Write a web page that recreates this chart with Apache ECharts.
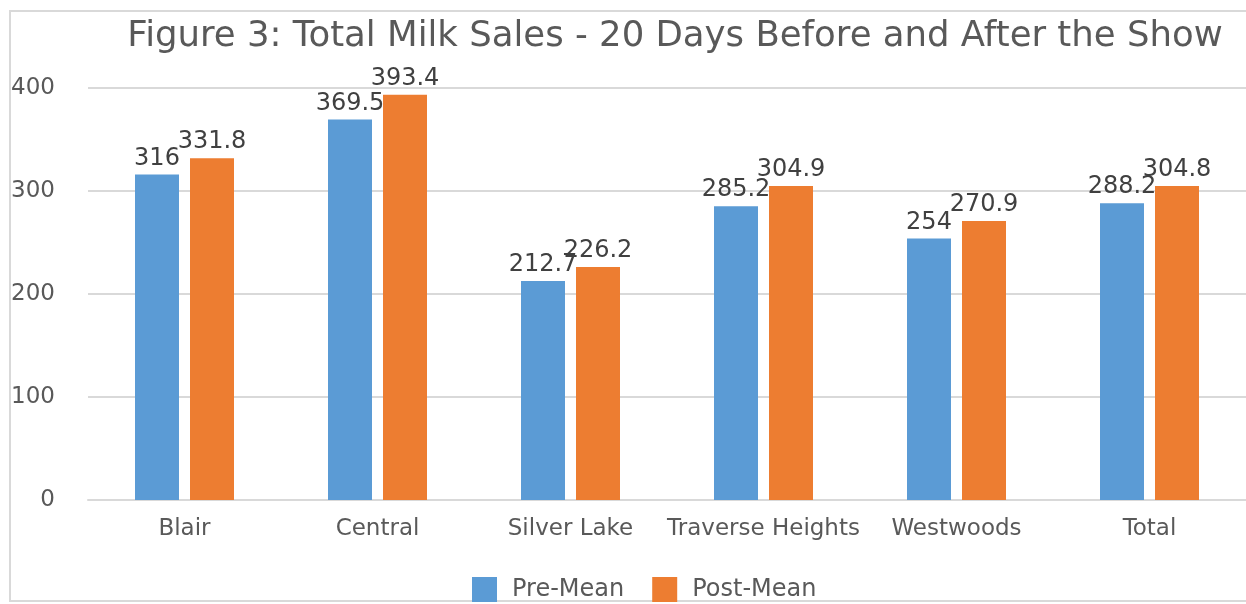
<!DOCTYPE html>
<html><head><meta charset="utf-8">
<script src="https://cdn.jsdelivr.net/npm/echarts@6/dist/echarts.min.js"></script>
<style>html,body{margin:0;padding:0;background:#fff}#c{width:1246px;height:604px}</style>
</head><body><div id="c"></div>
<script>
const categories = ['Blair','Central','Silver Lake','Traverse Heights','Westwoods','Total'];
const preMean = [316, 369.5, 212.7, 285.2, 254, 288.2];
const postMean = [331.8, 393.4, 226.2, 304.9, 270.9, 304.8];
const yTicks = [0, 100, 200, 300, 400];
const titleText = 'Figure 3: Total Milk Sales - 20 Days Before and After the Show';

const FONT = 'DejaVu Sans';
const chart = echarts.init(document.getElementById('c'));
chart.setOption({
  animation: false,
  textStyle: {fontFamily: FONT},
  title: {text: titleText, left: 670, top: 14, textAlign: 'center',
    textStyle: {fontFamily: FONT, fontSize: 35.5, fontWeight: 'normal', color: '#595959'}},
  legend: {top: 572, left: 467, itemWidth: 25, itemHeight: 25, itemGap: 28,
    icon: 'rect', textStyle: {fontSize: 24, color: '#595959', fontFamily: FONT, padding: [0, 0, 0, 10]}},
  grid: {left: 88, top: 88, width: 1164, height: 412, containLabel: false},
  xAxis: {type: 'category', data: categories,
    axisLine: {lineStyle: {color: '#d9d9d9', width: 2}}, axisTick: {show: false},
    axisLabel: {interval: 0, fontSize: 23, color: '#595959', margin: 18, fontFamily: FONT}},
  yAxis: {type: 'value', min: yTicks[0], max: yTicks[yTicks.length-1], interval: 100,
    axisLine: {show: false}, axisTick: {show: false},
    splitLine: {lineStyle: {color: '#d9d9d9', width: 2}},
    axisLabel: {fontSize: 23, color: '#595959', margin: 33, fontFamily: FONT}},
  series: [
    {name: 'Pre-Mean', type: 'bar', data: preMean, barWidth: 44, barGap: '25%',
      itemStyle: {color: '#5b9bd5'},
      label: {show: true, position: 'top', distance: 4, fontSize: 24, color: '#404040', fontFamily: FONT}},
    {name: 'Post-Mean', type: 'bar', data: postMean, barWidth: 44,
      itemStyle: {color: '#ed7d31'},
      label: {show: true, position: 'top', distance: 4, fontSize: 24, color: '#404040', fontFamily: FONT}}
  ],
  graphic: [
    {type: 'polyline', silent: true, shape: {points: [[1246, 11], [10, 11], [10, 601], [1246, 601]]},
      style: {stroke: '#d9d9d9', lineWidth: 2, fill: null}}
  ]
});
</script></body></html>
